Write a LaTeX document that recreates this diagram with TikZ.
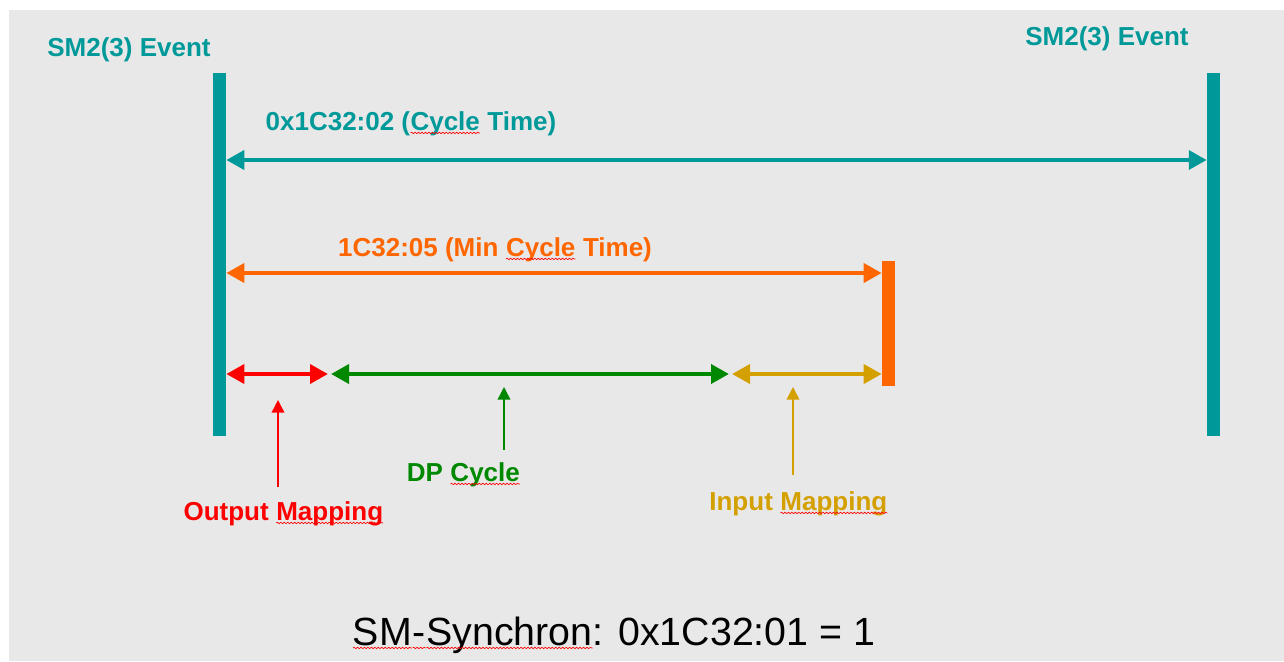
\documentclass[tikz,border=0pt]{standalone}
\usepackage{fontspec}
\setmainfont{Liberation Sans}
\usetikzlibrary{arrows.meta,decorations.pathmorphing}
\definecolor{tealc}{RGB}{0,153,153}
\definecolor{orngc}{RGB}{255,102,0}
\definecolor{redc}{RGB}{255,0,0}
\definecolor{grnc}{RGB}{0,136,0}
\definecolor{goldc}{RGB}{212,160,0}
\definecolor{bgc}{RGB}{232,232,232}
\newcommand\squig[1]{\tikz[baseline=(sqw.base)]{\node[inner sep=0pt,outer sep=0pt,anchor=base](sqw){#1};\draw[redc,line width=0.5pt,decorate,decoration={snake,amplitude=0.55pt,segment length=2.6pt}] ([yshift=-2.2pt]sqw.base west) -- ([yshift=-2.2pt]sqw.base east);}}
\tikzset{
  lbl/.style={font=\bfseries\fontsize{19.5}{22}\selectfont, inner sep=0pt, anchor=base},
  bar/.style={draw=none, inner sep=0pt, minimum width=9.75pt},
  dim/.style={line width=3.6pt, {Triangle[length=13.5pt,width=14pt]}-{Triangle[length=13.5pt,width=14pt]}},
  ptr/.style={line width=1.1pt, -{Triangle[length=9.5pt,width=9.5pt]}}
}
\begin{document}
\begin{tikzpicture}[x=0.75pt,y=-0.75pt]
\useasboundingbox (0,0) rectangle (1284,661);
\fill[white] (0,0) rectangle (1284,661);
\fill[bgc] (9,10) rectangle (1284,661);
% bars
\node[bar,fill=tealc,minimum height=272.25pt] (L) at (219.5,254.5) {};
\node[bar,fill=tealc,minimum height=272.25pt] (R) at (1213.5,254.5) {};
\node[bar,fill=orngc,minimum height=93.75pt] (O) at (888.5,323.5) {};
% row coordinates
\coordinate (y1) at (0,160);
\coordinate (y2) at (0,273);
\coordinate (a1) at (328,374);
\coordinate (a2) at (331,374);
\coordinate (a3) at (729,374);
\coordinate (a4) at (732,374);
% dimension arrows
\draw[dim,tealc] (L.east |- y1) -- (R.west |- y1);
\draw[dim,orngc] (L.east |- y2) -- (O.west |- y2);
\draw[dim,redc] (L.east |- a1) -- (a1);
\draw[dim,grnc] (a2) -- (a3);
\draw[dim,goldc] (a4) -- (O.west |- a4);
% labels
\node[lbl,text=tealc] (ev1) at (129,56) {SM2(3) Event};
\node[lbl,text=tealc] (ev2) at (1107,45) {SM2(3) Event};
\node[lbl,text=tealc] (ct) at (411,130) {0x1C32:02 (\squig{Cycle} Time)};
\node[lbl,text=orngc] (mct) at (495,256) {1C32:05 (Min \squig{Cycle} Time)};
\node[lbl,text=redc] (om) at (283.5,520) {Output \squig{Mapping}};
\node[lbl,text=grnc] (dp) at (463.5,481) {DP \squig{Cycle}};
\node[lbl,text=goldc] (im) at (798.5,510) {Input \squig{Mapping}};
\node[font=\fontsize{29.5}{32}\selectfont, inner sep=0pt, anchor=base] (sm) at (614,645) {\squig{SM}\squig{-}\squig{Synchron}: 0x1C32:01 = 1};
% pointers
\coordinate (p1s) at (278,487); \coordinate (p1e) at (278,400);
\coordinate (p2s) at (504,450); \coordinate (p2e) at (504,387);
\coordinate (p3s) at (793,475); \coordinate (p3e) at (793,387);
\draw[ptr,redc] (p1s) -- (p1e);
\draw[ptr,grnc] (p2s) -- (p2e);
\draw[ptr,goldc] (p3s) -- (p3e);
\end{tikzpicture}
\end{document}
